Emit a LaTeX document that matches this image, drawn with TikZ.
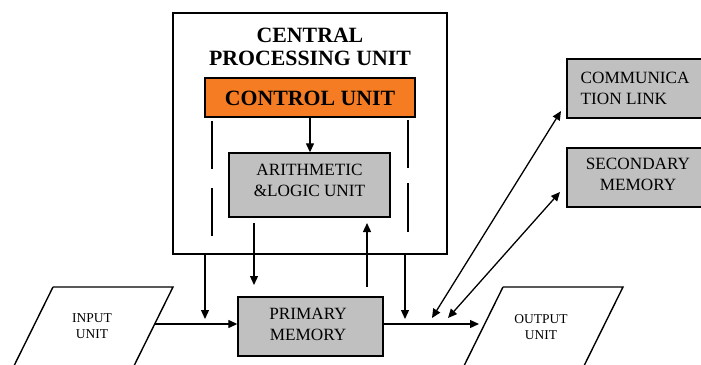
\documentclass[tikz,border=0pt]{standalone}
\usepackage{fontspec}
\setmainfont{Liberation Serif}
\usetikzlibrary{arrows.meta}
\definecolor{cuorange}{RGB}{245,124,34}
\definecolor{boxgray}{RGB}{192,192,192}
\begin{document}
\begin{tikzpicture}[x=1pt,y=-1pt,line width=1.3pt,
  >={Triangle[length=9pt,width=8pt]},
  box/.style={draw, line width=1.4pt, inner sep=0pt},
  graybox/.style={box, fill=boxgray},
  big/.style={font=\fontsize{17.2}{21}\selectfont, align=center, inner sep=0pt},
  small/.style={font=\fontsize{13.5}{16}\selectfont, align=center, inner sep=0pt},
  bold/.style={font=\fontsize{21.8}{23.5}\selectfont\bfseries, align=center, inner sep=0pt},
  sideline/.style={line width=1.2pt}]
\useasboundingbox (0,0) rectangle (701,364);
\clip (0,0) rectangle (701,364);
% boxes
\node[box, minimum width=274pt, minimum height=241pt] (cpu) at (310,133.5) {};
\node[box, fill=cuorange, minimum width=210pt, minimum height=39pt] (cu) at (310,97.5) {};
\node[graybox, minimum width=161pt, minimum height=64pt] (alu) at (309.5,185) {};
\node[graybox, minimum width=145pt, minimum height=59pt] (pm) at (310.5,326.5) {};
\node[graybox, minimum width=143pt, minimum height=59pt] (comm) at (638.5,88.5) {};
\node[graybox, minimum width=143pt, minimum height=59pt] (sec) at (638.5,177.5) {};
% parallelograms
\coordinate (in1) at (53,287); \coordinate (in2) at (173,287);
\coordinate (in3) at (127,380); \coordinate (in4) at (7,380);
\draw[line width=1.4pt] (in1) -- (in2) -- (in3) (in4) -- (in1);
\coordinate (out1) at (503,287); \coordinate (out2) at (623,287);
\coordinate (out3) at (577,380); \coordinate (out4) at (457,380);
\draw[line width=1.4pt] (out1) -- (out2) -- (out3) (out4) -- (out1);
% texts
\node[bold] (cput) at (310,47) {CENTRAL\\PROCESSING UNIT};
\node[bold] (cut) at (310,98) {CONTROL UNIT};
\node[big] (alut) at (309.5,180) {ARITHMETIC\\\&LOGIC UNIT};
\node[big] (pmt) at (308,324) {PRIMARY\\MEMORY};
\node[big, align=left, anchor=west] (commt) at (580,88) {COMMUNICA\\TION LINK};
\node[big] (sect) at (638,174.5) {SECONDARY\\MEMORY};
\node[small] (int) at (92,326) {INPUT\\UNIT};
\node[small] (outt) at (541,327) {OUTPUT\\UNIT};
% dashed lines inside CPU
\coordinate (dl1) at (212,121); \coordinate (dl2) at (212,169);
\coordinate (dl3) at (212,188); \coordinate (dl4) at (212,236);
\coordinate (dr1) at (408,120); \coordinate (dr2) at (408,168);
\coordinate (dr3) at (408,183); \coordinate (dr4) at (408,232);
\draw[sideline] (dl1) -- (dl2) (dl3) -- (dl4) (dr1) -- (dr2) (dr3) -- (dr4);
% connectors
\draw[->] (cu.south) -- (cu.south |- alu.north);
\coordinate (d1) at (205,319);
\draw[->] (cpu.south -| d1) -- (d1);
\coordinate (d2a) at (254,223); \coordinate (d2b) at (254,285);
\draw[->] (d2a) -- (d2b);
\coordinate (u1a) at (367,287); \coordinate (u1b) at (367,223);
\draw[->] (u1a) -- (u1b);
\coordinate (d4) at (405,319);
\draw[->] (cpu.south -| d4) -- (d4);
\coordinate (inR) at (155,324);
\draw[->] (inR) -- (pm.west |- inR);
\coordinate (outL) at (479,324);
\draw[->] (pm.east |- inR) -- (outL);
\coordinate (j1) at (432,318); \coordinate (c1) at (561,111);
\draw[<->] (j1) -- (c1);
\coordinate (j2) at (448,318); \coordinate (s1) at (560,192);
\draw[<->] (j2) -- (s1);
\end{tikzpicture}
\end{document}
